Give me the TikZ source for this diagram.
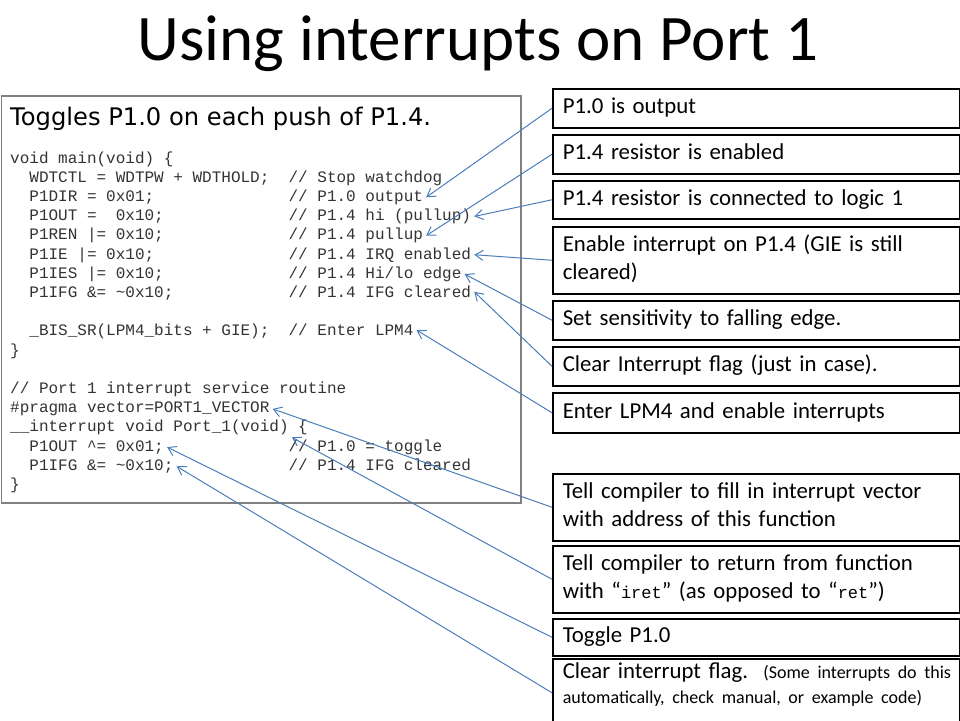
\documentclass[tikz,border=0pt]{standalone}
\usepackage{fontspec}
\setmainfont{Carlito}
\newfontfamily\codefont{Liberation Mono}
\newfontfamily\headfont{DejaVu Sans}
\usetikzlibrary{arrows.meta}
\definecolor{arrowblue}{RGB}{74,126,187}
\definecolor{framegray}{RGB}{128,128,128}
\begin{document}
\begin{tikzpicture}
    [%%%%%%%%%%%%%%%%%%%%%%%%%%%%%%
        x=1pt, y=-1pt,
        note/.style={rectangle,draw=black,line width=1.5pt,anchor=north west,
            minimum width=407pt,text width=387pt,inner xsep=10pt,inner ysep=0pt,align=left,
            font=\fontsize{22.8}{28}\selectfont,
            execute at begin node=\strut,execute at end node=\strut},
        codeline/.style={anchor=base west,inner xsep=3pt,inner ysep=2pt,text=black!80,
            font=\codefont\fontsize{16}{19.2}\selectfont},
        pointer/.style={draw=arrowblue,line width=1pt,-{Straight Barb[length=8pt,width=10pt]}},
    ]%%%%%%%%%%%%%%%%%%%%%%%%%%%%%%
\useasboundingbox (0,0) rectangle (960,720);

\node[anchor=base,inner sep=0pt,font=\fontsize{65}{78}\selectfont] (title) at (478,60.5) {Using interrupts on Port 1};

% listing
\draw[draw=framegray,line width=1.5pt] (1.5,96) rectangle (521,503);
\node[anchor=base west,inner sep=0pt,font=\headfont\fontsize{24.2}{28}\selectfont] (headline) at (10,125) {Toggles P1.0 on each push of P1.4.};

\node[codeline] (main) at (7,163) {void main(void) \{};
\node[codeline] (wdt) at (26.2,182.2) {WDTCTL = WDTPW + WDTHOLD;};
\node[codeline] (dir) at (26.2,201.4) {P1DIR = 0x01;};
\node[codeline] (out) at (26.2,220.6) {P1OUT = \ 0x10;};
\node[codeline] (ren) at (26.2,239.8) {P1REN |= 0x10;};
\node[codeline] (ie) at (26.2,259) {P1IE |= 0x10;};
\node[codeline] (ies) at (26.2,278.2) {P1IES |= 0x10;};
\node[codeline] (ifg) at (26.2,297.4) {P1IFG \&= \textasciitilde0x10;};
\node[codeline] (bis) at (26.2,335.8) {\_BIS\_SR(LPM4\_bits + GIE);};
\node[codeline] (mainend) at (7,355) {\}};
\node[codeline] (isrnote) at (7,393.4) {// Port 1 interrupt service routine};
\node[codeline] (pragma) at (7,412.6) {\#pragma vector=PORT1\_VECTOR};
\node[codeline] (isr) at (7,431.8) {\_\_interrupt void Port\_1(void)};
\node[codeline] (isropen) at (295,431.8) {\{};
\node[codeline] (toggle) at (26.2,451) {P1OUT \textasciicircum= 0x01;};
\node[codeline] (clear) at (26.2,470.2) {P1IFG \&= \textasciitilde0x10;};
\node[codeline] (isrend) at (7,489.4) {\}};

% comments
\node[codeline] (wdtc) at (285.4,182.2) {// Stop watchdog};
\node[codeline] (dirc) at (285.4,201.4) {// P1.0 output};
\node[codeline] (outc) at (285.4,220.6) {// P1.4 hi (pullup)};
\node[codeline] (renc) at (285.4,239.8) {// P1.4 pullup};
\node[codeline] (iec) at (285.4,259) {// P1.4 IRQ enabled};
\node[codeline] (iesc) at (285.4,278.2) {// P1.4 Hi/lo edge};
\node[codeline] (ifgc) at (285.4,297.4) {// P1.4 IFG cleared};
\node[codeline] (bisc) at (285.4,335.8) {// Enter LPM4};
\node[codeline] (togglec) at (285.4,451) {// P1.0 = toggle};
\node[codeline] (clearc) at (285.4,470.2) {// P1.4 IFG cleared};

% notes
\node[note,minimum height=39pt] (n1) at (552,88) {P1.0 is output};
\node[note,minimum height=39pt] (n2) at (552,134) {P1.4 resistor is enabled};
\node[note,minimum height=38pt] (n3) at (552,180) {P1.4 resistor is connected to logic 1};
\node[note,minimum height=67pt] (n4) at (552,226) {Enable interrupt on P1.4 (GIE is still\\cleared)};
\node[note,minimum height=39pt] (n5) at (552,300) {Set sensitivity to falling edge.};
\node[note,minimum height=39pt] (n6) at (552,346) {Clear Interrupt flag (just in case).};
\node[note,minimum height=40pt] (n7) at (552,392) {Enter LPM4 and enable interrupts};
\node[note,minimum height=67pt] (n8) at (552,473) {Tell compiler to fill in interrupt vector\\with address of this function};
\node[note,minimum height=67pt] (n9) at (552,545) {Tell compiler to return from function\\with “{\codefont\fontsize{17}{20}\selectfont iret}” (as opposed to “{\codefont\fontsize{17}{20}\selectfont ret}”)};
\node[note,minimum height=37pt] (n10) at (552,618) {Toggle P1.0};
\node[note,minimum height=68pt,font=\fontsize{22.8}{25}\selectfont,
    execute at begin node={},execute at end node={}] (n11) at (552,658)
    {\rule{0pt}{20pt}\mbox{Clear interrupt flag.\ \ {\fontsize{18}{25}\selectfont (Some interrupts do this}}\\
     \mbox{\fontsize{18}{25}\selectfont automatically, check manual, or example code)}\rule[-23pt]{0pt}{23pt}};

\foreach \from/\to in {n1/dirc.east,n2/renc.east,n3/outc.east,n4/iec.east,n5/iesc.east,
    n6/ifgc.east,n7/bisc.east,n8/pragma.east,n9/isr.south east,n10/toggle.east,n11/clear.east}
    \draw[pointer] (\from.west) -- (\to);
\end{tikzpicture}
\end{document}
